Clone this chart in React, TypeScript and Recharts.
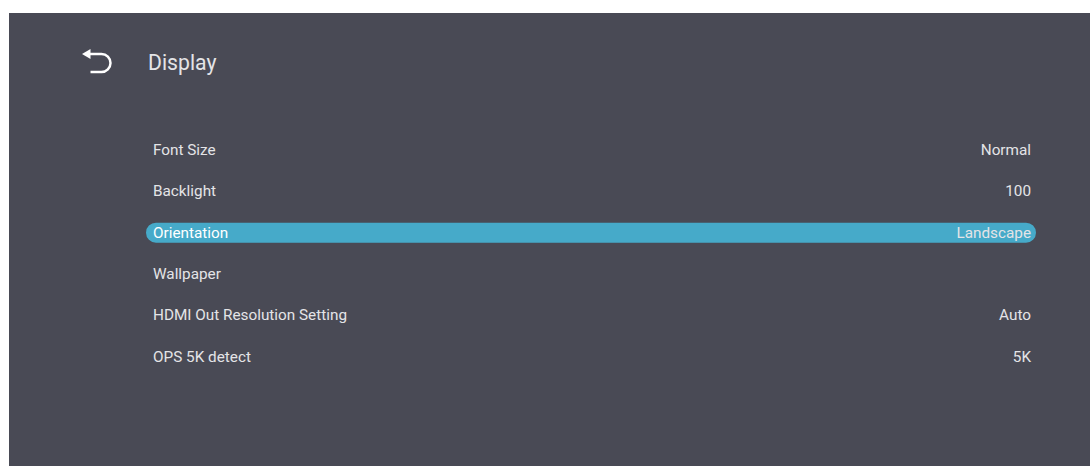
import { BarChart, Bar, XAxis, YAxis, Cell, LabelList } from "recharts";

const settingNames = [
  "Font Size",
  "Backlight",
  "Orientation",
  "Wallpaper",
  "HDMI Out Resolution Setting",
  "OPS 5K detect",
];
const settingValues = ["Normal", "100", "Landscape", "", "Auto", "5K"];
const rowSpan = [100, 100, 100, 100, 100, 100];
const selectedRow = "Orientation";
const pageTitle = "Display";

const PANEL = "#494a55";
const ACCENT = "#46aac9";
const TEXT = "#e4e4e7";

const data = settingNames.map((name, i) => ({
  name,
  value: settingValues[i],
  span: rowSpan[i],
}));

function NameLabel(props: any) {
  const { x, y, height, value } = props;
  const selected = value === selectedRow;
  return (
    <text
      x={x + 7}
      y={y + height / 2}
      dominantBaseline="central"
      fontSize={15.3}
      fill={selected ? "#ffffff" : TEXT}
    >
      {value}
    </text>
  );
}

function ValueLabel(props: any) {
  const { x, y, width, height, value } = props;
  if (!value) return null;
  return (
    <text
      x={x + width - 5}
      y={y + height / 2}
      dominantBaseline="central"
      textAnchor="end"
      fontSize={15.3}
      fill={TEXT}
    >
      {value}
    </text>
  );
}

export default function App() {
  return (
    <div
      style={{
        position: "absolute",
        left: 9,
        top: 13,
        width: 1081,
        height: 453,
        background: PANEL,
        fontFamily: "Roboto, sans-serif",
        overflow: "hidden",
      }}
    >
      {/* back arrow + title */}
      <svg width={1081} height={100} style={{ position: "absolute", left: 0, top: 0 }}>
        <path
          d="M79 41 H92.5 A9 9 0 0 1 92.5 59 H81.5"
          fill="none"
          stroke="#ffffff"
          strokeWidth={2.5}
        />
        <path d="M73 41 L81.5 36 L81.5 46 Z" fill="#ffffff" />
        <text x={139} y={49} dominantBaseline="central" fontSize={21.2} fill={TEXT}>
          {pageTitle}
        </text>
      </svg>

      <BarChart
        width={1081}
        height={453}
        data={data}
        layout="vertical"
        margin={{ top: 116, right: 54, left: 137, bottom: 89 }}
        style={{ position: "absolute", left: 0, top: 0 }}
      >
        <XAxis type="number" domain={[0, 100]} hide />
        <YAxis type="category" dataKey="name" hide />
        <Bar dataKey="span" barSize={20} radius={10} isAnimationActive={false}>
          {data.map((d) => (
            <Cell key={d.name} fill={d.name === selectedRow ? ACCENT : "transparent"} />
          ))}
          <LabelList dataKey="name" content={NameLabel} />
          <LabelList dataKey="value" content={ValueLabel} />
        </Bar>
      </BarChart>
    </div>
  );
}
